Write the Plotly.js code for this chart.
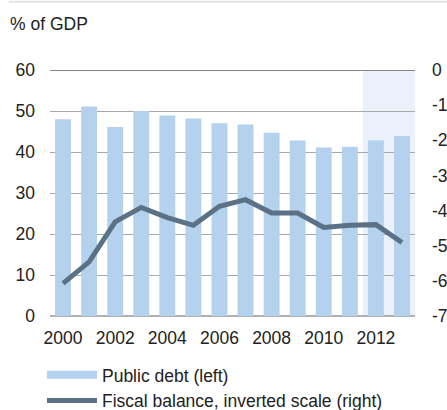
<!DOCTYPE html>
<html>
<head>
<meta charset="utf-8">
<script src="https://cdn.plot.ly/plotly-3.0.1.min.js"></script>
<style>html,body{margin:0;padding:0;background:#fff;}#chart{width:447px;height:410px;}</style>
</head>
<body>
<div id="chart"></div>
<script>
var years = [2000, 2001, 2002, 2003, 2004, 2005, 2006, 2007, 2008, 2009, 2010, 2011, 2012, 2013];
var publicDebt = [48.0, 51.1, 46.1, 50.0, 48.9, 48.2, 47.0, 46.7, 44.7, 42.8, 41.1, 41.3, 42.8, 43.9];
var fiscalBalance = [-6.07, -5.46, -4.32, -3.91, -4.20, -4.42, -3.88, -3.69, -4.07, -4.07, -4.48, -4.42, -4.40, -4.91];
var leftTicks = [0, 10, 20, 30, 40, 50, 60];
var rightTickVals = [0, -1, -2, -3, -4, -5, -6, -7];
var rightTickText = ["0", "-1", "-2", "-3", "-4", "-5", "-6", "-7"];
var seriesNames = ["Public debt (left)", "Fiscal balance, inverted scale (right)"];
var titleText = "% of GDP";
var forecastStart = 2011.5, forecastEnd = 2013.5;

var barColor = "#b4d1ee";
var lineColor = "#5b7186";
var font = {family: "Liberation Sans, Arial, sans-serif", size: 17.5, color: "#222"};

var traces = [
  {type: "bar", x: years, y: publicDebt, name: seriesNames[0], marker: {color: barColor}, showlegend: false, yaxis: "y", hoverinfo: "skip"},
  {type: "scatter", mode: "lines", x: [null], y: [null], name: seriesNames[0], line: {color: barColor, width: 8}, showlegend: true, yaxis: "y"},
  {type: "scatter", mode: "lines", x: years, y: fiscalBalance, name: seriesNames[1], line: {color: lineColor, width: 5}, yaxis: "y2"}
];

var layout = {
  width: 447, height: 410,
  margin: {l: 50, r: 32, t: 69.5, b: 94, autoexpand: false},
  paper_bgcolor: "#fff", plot_bgcolor: "rgba(0,0,0,0)",
  font: font,
  title: {text: titleText, x: 10/447, xanchor: "left", xref: "container", y: 1 - 24/410, yanchor: "middle", yref: "container", font: {family: font.family, size: 17.5, color: "#222"}},
  bargap: 0.39,
  xaxis: {range: [1999.5, 2013.5], tickmode: "linear", tick0: 2000, dtick: 2, showgrid: false, zeroline: false, showline: false, ticks: "", ticklabelstandoff: 9, tickfont: font, fixedrange: true},
  yaxis: {range: [0, 60], tickvals: leftTicks, showgrid: true, gridcolor: "#a8a8a8", gridwidth: 1, zeroline: true, zerolinecolor: "#b0b0b0", zerolinewidth: 2, showline: false, ticks: "", ticklabelstandoff: 14, tickfont: font, fixedrange: true},
  yaxis2: {range: [-7, 0], overlaying: "y", side: "right", tickvals: rightTickVals, ticktext: rightTickText, showgrid: false, zeroline: false, showline: false, ticks: "", ticklabelstandoff: 16, tickfont: font, fixedrange: true},
  shapes: [
    {type: "rect", xref: "x", yref: "y", x0: forecastStart, x1: forecastEnd, y0: 0, y1: 60, fillcolor: "#eaf1fa", line: {width: 0}, layer: "below"},
    {type: "line", xref: "paper", yref: "y", x0: 0, x1: 1, y0: 60, y1: 60, line: {color: "#858585", width: 2}, layer: "above"},
    {type: "line", xref: "paper", yref: "paper", x0: -41/365, x1: 397/365, y0: 315/246.5, y1: 315/246.5, line: {color: "#e3e3e3", width: 2}}
  ],
  legend: {orientation: "v", x: -0.022, xanchor: "left", y: -0.1664, yanchor: "top", bgcolor: "rgba(0,0,0,0)", font: font, itemwidth: 50, tracegroupgap: 0},
  showlegend: true
};

Plotly.newPlot("chart", traces, layout, {displayModeBar: false, staticPlot: true});
</script>
</body>
</html>
